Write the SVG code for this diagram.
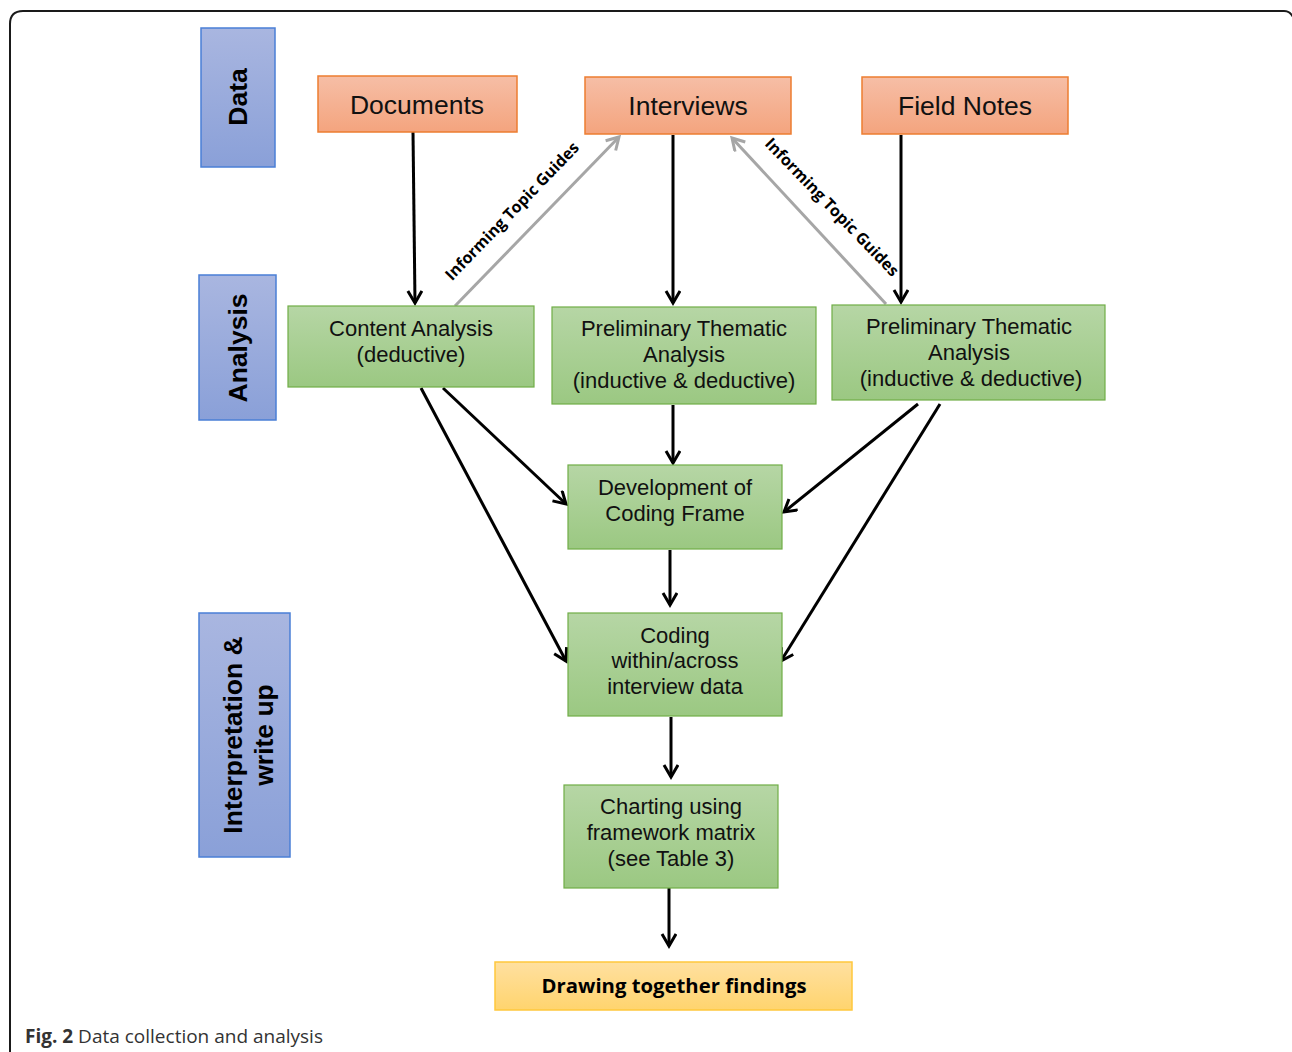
<svg xmlns="http://www.w3.org/2000/svg" width="1292" height="1052" viewBox="0 0 1292 1052">
<style>
.lbl{fill:url(#gBlue);stroke:#4a7fd6;stroke-width:1.5}
.src{fill:url(#gOrange);stroke:#ed7d31;stroke-width:1.5}
.ana{fill:url(#gGreen);stroke:#70ad47;stroke-width:1.2}
.fin{fill:url(#gYellow);stroke:#ffc83d;stroke-width:1.5}
.t{font-family:"Liberation Sans",Arial,sans-serif;fill:#111;text-anchor:middle}
.vt{font-family:"Liberation Sans",Arial,sans-serif;font-weight:bold;font-size:26.5px;fill:#000;text-anchor:middle}
.st{font-size:26.5px}
.gt{font-size:22px}
.itg{font-family:"Open Sans","Liberation Sans",sans-serif;font-weight:bold;font-size:16px;fill:#000;text-anchor:middle}
.blk{stroke:#000;stroke-width:3;fill:none;marker-end:url(#ah)}
.gry{stroke:#a6a6a6;stroke-width:3;fill:none;marker-end:url(#ahg)}
</style>
<defs>
<linearGradient id="gBlue" x1="0" y1="0" x2="0" y2="1"><stop offset="0" stop-color="#a9b6e0"/><stop offset="1" stop-color="#8aa0d8"/></linearGradient>
<linearGradient id="gOrange" x1="0" y1="0" x2="0" y2="1"><stop offset="0" stop-color="#f6bea6"/><stop offset="1" stop-color="#f4a47e"/></linearGradient>
<linearGradient id="gGreen" x1="0" y1="0" x2="0" y2="1"><stop offset="0" stop-color="#b6d6a5"/><stop offset="1" stop-color="#9bc882"/></linearGradient>
<linearGradient id="gYellow" x1="0" y1="0" x2="0" y2="1"><stop offset="0" stop-color="#ffe0a0"/><stop offset="1" stop-color="#ffd46e"/></linearGradient>
<marker id="ah" markerUnits="userSpaceOnUse" markerWidth="20" markerHeight="20" refX="13" refY="8" orient="auto"><path d="M1,1 L13,8 L1,15" fill="none" stroke="#000" stroke-width="3"/></marker>
<marker id="ahg" markerUnits="userSpaceOnUse" markerWidth="20" markerHeight="20" refX="13" refY="8" orient="auto"><path d="M1,1 L13,8 L1,15" fill="none" stroke="#a6a6a6" stroke-width="3"/></marker>
</defs>
<rect width="1292" height="1052" fill="#fff"/>
<path d="M10,1052 L10,24 Q10,11 23,11 L1284,11 Q1290,11 1293,17" fill="none" stroke="#1a1a1a" stroke-width="2"/>

<g id="lbl-data"><rect class="lbl" x="201" y="28" width="74" height="139"/><text class="vt" transform="translate(247,97) rotate(-90)">Data</text></g>
<g id="lbl-analysis"><rect class="lbl" x="199" y="275" width="77" height="145"/><text class="vt" transform="translate(247,348) rotate(-90)">Analysis</text></g>
<g id="lbl-interp"><rect class="lbl" x="199" y="613" width="91" height="244"/><text class="vt" transform="translate(242,735) rotate(-90)">Interpretation &amp;</text><text class="vt" transform="translate(273,735) rotate(-90)">write up</text></g>

<g id="connectors">
<line class="blk" x1="413" y1="132" x2="415" y2="303"/>
<line class="blk" x1="673" y1="135" x2="673" y2="303"/>
<line class="blk" x1="901" y1="135" x2="901" y2="302"/>
<line class="gry" x1="455" y1="306" x2="619" y2="137"/>
<line class="gry" x1="886" y1="304" x2="732" y2="138"/>
<line class="blk" x1="443" y1="388" x2="566" y2="504"/>
<line class="blk" x1="421" y1="388" x2="566" y2="661"/>
<line class="blk" x1="673" y1="405" x2="673" y2="463"/>
<line class="blk" x1="918" y1="404" x2="784" y2="512"/>
<line class="blk" x1="940" y1="404" x2="781" y2="661"/>
<line class="blk" x1="670" y1="550" x2="670" y2="605"/>
<line class="blk" x1="671" y1="717" x2="671" y2="777"/>
<line class="blk" x1="669" y1="888" x2="669" y2="946"/>
<text class="itg" transform="translate(516,215) rotate(-46)">Informing Topic Guides</text>
<text class="itg" transform="translate(828,211) rotate(46)">Informing Topic Guides</text>
</g>

<g id="n-documents"><rect class="src" x="318" y="76" width="199" height="56"/><text class="t st" x="417" y="114">Documents</text></g>
<g id="n-interviews"><rect class="src" x="585" y="77" width="206" height="57"/><text class="t st" x="688" y="115">Interviews</text></g>
<g id="n-fieldnotes"><rect class="src" x="862" y="77" width="206" height="57"/><text class="t st" x="965" y="115">Field Notes</text></g>

<g id="n-content"><rect class="ana" x="288" y="306" width="246" height="81"/><text class="t gt" x="411" y="336">Content Analysis</text><text class="t gt" x="411" y="362">(deductive)</text></g>
<g id="n-prelim1"><rect class="ana" x="552" y="307" width="264" height="97"/><text class="t gt" x="684" y="336">Preliminary Thematic</text><text class="t gt" x="684" y="362">Analysis</text><text class="t gt" x="684" y="388">(inductive &amp; deductive)</text></g>
<g id="n-prelim2"><rect class="ana" x="832" y="305" width="273" height="95"/><text class="t gt" x="969" y="334">Preliminary Thematic</text><text class="t gt" x="969" y="360">Analysis</text><text class="t gt" x="971" y="386">(inductive &amp; deductive)</text></g>
<g id="n-dev"><rect class="ana" x="568" y="465" width="214" height="84"/><text class="t gt" x="675" y="495">Development of</text><text class="t gt" x="675" y="521">Coding Frame</text></g>
<g id="n-coding"><rect class="ana" x="568" y="613" width="214" height="103"/><text class="t gt" x="675" y="643">Coding</text><text class="t gt" x="675" y="668">within/across</text><text class="t gt" x="675" y="694">interview data</text></g>
<g id="n-charting"><rect class="ana" x="564" y="785" width="214" height="103"/><text class="t gt" x="671" y="814">Charting using</text><text class="t gt" x="671" y="840">framework matrix</text><text class="t gt" x="671" y="866">(see Table 3)</text></g>
<g id="n-drawing"><rect class="fin" x="495" y="962" width="357" height="48"/><text x="674" y="993" font-family="'Open Sans','Liberation Sans',sans-serif" font-weight="bold" font-size="20" text-anchor="middle" textLength="265" lengthAdjust="spacingAndGlyphs" fill="#000">Drawing together findings</text></g>

<text x="25" y="1043" font-family="'Open Sans','Liberation Sans',sans-serif" font-size="19" fill="#333"><tspan font-weight="bold">Fig. 2</tspan> Data collection and analysis</text>
</svg>
